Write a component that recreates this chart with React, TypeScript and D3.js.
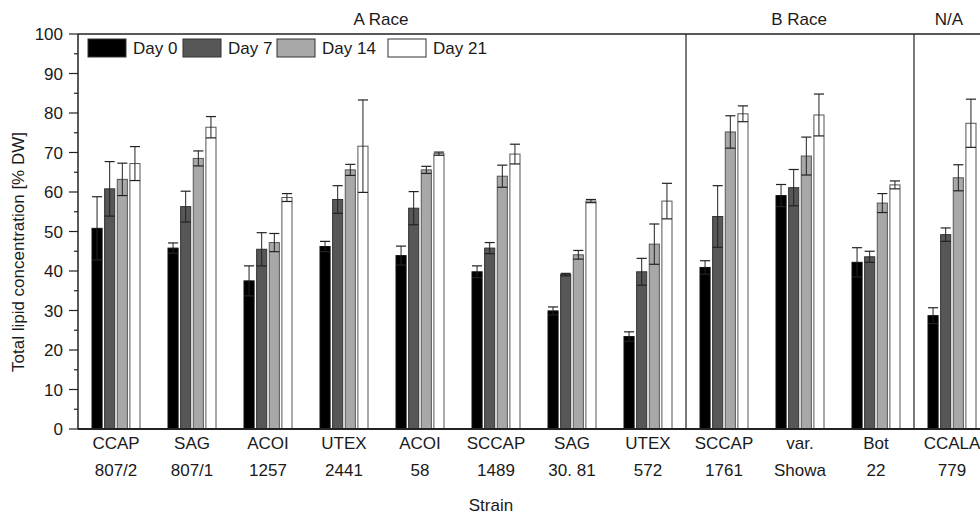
import React from 'react';
import * as d3 from 'd3';

const strainTop = ['CCAP', 'SAG', 'ACOI', 'UTEX', 'ACOI', 'SCCAP', 'SAG', 'UTEX', 'SCCAP', 'var.', 'Bot', 'CCALA'];
const strainBottom = ['807/2', '807/1', '1257', '2441', '58', '1489', '30. 81', '572', '1761', 'Showa', '22', '779'];
const days = ['Day 0', 'Day 7', 'Day 14', 'Day 21'];

// mean per strain, per day
const day0 = [50.8, 45.8, 37.5, 46.2, 43.9, 39.8, 29.9, 23.4, 40.9, 59.1, 42.2, 28.7];
const day7 = [60.8, 56.3, 45.5, 58.1, 55.9, 45.8, 39.1, 39.8, 53.8, 61.1, 43.6, 49.2];
const day14 = [63.2, 68.5, 47.2, 65.6, 65.6, 64.0, 44.1, 46.8, 75.2, 69.1, 57.2, 63.6];
const day21 = [67.2, 76.4, 58.6, 71.6, 69.7, 69.6, 57.7, 57.7, 79.8, 79.5, 61.8, 77.4];

// standard deviations
const err0 = [8.0, 1.3, 3.8, 1.3, 2.4, 1.5, 1.0, 1.2, 1.7, 2.8, 3.7, 2.0];
const err7 = [6.9, 3.9, 4.2, 3.5, 4.2, 1.4, 0.3, 3.4, 7.8, 4.6, 1.4, 1.7];
const err14 = [4.1, 1.9, 2.3, 1.4, 0.9, 2.8, 1.1, 5.1, 4.1, 4.8, 2.4, 3.3];
const err21 = [4.3, 2.7, 1.0, 11.7, 0.4, 2.5, 0.4, 4.5, 2.0, 5.3, 1.0, 6.1];

const races = [
  { name: 'A Race', from: 0, to: 8 },
  { name: 'B Race', from: 8, to: 11 },
  { name: 'N/A', from: 11, to: 12 },
];

const fills = ['#000000', '#575757', '#a8a8a8', '#ffffff'];
const strokes = ['#111111', '#333333', '#555555', '#555555'];

const font = 'Liberation Sans, Arial, Helvetica, sans-serif';
const ink = '#1a1a1a';

export default function App() {
  const width = 980;
  const height = 517;
  const left = 78;
  const top = 34;
  const bottom = 429;

  const ids = d3.range(strainTop.length).map(String);
  const x = d3.scaleBand<string>().domain(ids).range([left, left + 76 * ids.length]);
  const inner = d3.scaleBand<string>().domain(days).range([-24, 24]).paddingInner(0.2);
  const y = d3.scaleLinear().domain([0, 100]).range([bottom, top]);

  const series = [day0, day7, day14, day21];
  const errs = [err0, err7, err14, err21];
  const majors = d3.range(0, 101, 10);
  const minors = d3.range(5, 100, 10);
  const bw = inner.bandwidth();
  const legendX = [88, 183, 277, 388];

  return (
    <svg width={width} height={height} style={{ position: 'absolute', left: 0, top: 0, fontFamily: font }}>
      <rect width={width} height={height} fill="#fff" />

      {/* bars */}
      {ids.map((id, i) => (
        <g key={id} transform={`translate(${x(id)! + x.bandwidth() / 2},0)`}>
          {days.map((d, k) => {
            const v = series[k][i];
            const e = errs[k][i];
            const bx = inner(d)!;
            const cx = bx + bw / 2;
            return (
              <g key={d}>
                <rect x={bx} y={y(v)} width={bw} height={y(0) - y(v)} fill={fills[k]} stroke={strokes[k]} strokeWidth={1} />
                <line x1={cx} x2={cx} y1={y(v + e)} y2={y(v - e)} stroke="#222" strokeWidth={1} />
                <line x1={bx} x2={bx + bw} y1={y(v + e)} y2={y(v + e)} stroke="#222" strokeWidth={1.2} />
                <line x1={bx} x2={bx + bw} y1={y(v - e)} y2={y(v - e)} stroke="#222" strokeWidth={1.2} />
              </g>
            );
          })}
        </g>
      ))}

      {/* frame */}
      <line x1={left} x2={width} y1={top} y2={top} stroke="#222" strokeWidth={1.5} />
      <line x1={left} x2={width} y1={bottom} y2={bottom} stroke="#222" strokeWidth={2} />
      <line x1={left} x2={left} y1={top} y2={bottom} stroke="#222" strokeWidth={1.5} />
      {races.slice(1).map((r) => (
        <line key={r.name} x1={x(String(r.from))!} x2={x(String(r.from))!} y1={top} y2={bottom} stroke="#222" strokeWidth={1.2} />
      ))}
      {races.map((r) => {
        const cx = (x(String(r.from))! + x(String(r.to - 1))! + x.bandwidth()) / 2;
        return (
          <text key={r.name} x={r.name === 'N/A' ? cx - 3 : cx - 1} y={25} fontSize={17} textAnchor="middle" fill={ink}>{r.name}</text>
        );
      })}

      {/* y axis */}
      {majors.map((t) => (
        <g key={t}>
          <line x1={left - 9} x2={left} y1={y(t)} y2={y(t)} stroke="#222" strokeWidth={1.2} />
          <text x={left - 15} y={y(t) + 6} fontSize={17} textAnchor="end" fill={ink}>{t}</text>
        </g>
      ))}
      {minors.map((t) => (
        <line key={t} x1={left - 4} x2={left} y1={y(t)} y2={y(t)} stroke="#222" strokeWidth={1.2} />
      ))}
      <text transform={`translate(24,${252}) rotate(-90)`} fontSize={17} textAnchor="middle" fill={ink}>
        Total lipid concentration [% DW]
      </text>

      {/* x labels */}
      {ids.map((id, i) => {
        const cx = x(id)! + x.bandwidth() / 2;
        return (
          <g key={id}>
            <text x={cx} y={449} fontSize={17} textAnchor="middle" fill={ink}>{strainTop[i]}</text>
            <text x={cx} y={476} fontSize={17} textAnchor="middle" fill={ink}>{strainBottom[i]}</text>
          </g>
        );
      })}
      <text x={491} y={511} fontSize={17} textAnchor="middle" fill={ink}>Strain</text>

      {/* legend */}
      {days.map((d, k) => (
        <g key={d} transform={`translate(${legendX[k]},39)`}>
          <rect width={38} height={18} fill={fills[k]} stroke="#333" strokeWidth={1} />
          <text x={45} y={15} fontSize={17} fill={ink}>{d}</text>
        </g>
      ))}
    </svg>
  );
}
